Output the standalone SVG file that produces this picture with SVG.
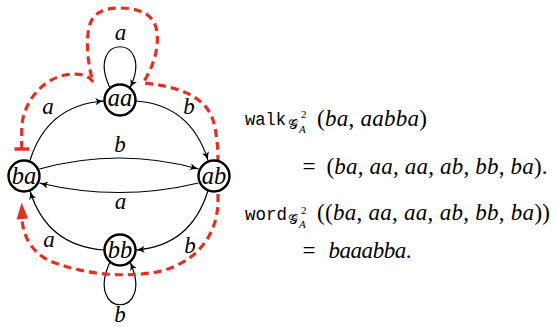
<svg xmlns="http://www.w3.org/2000/svg" width="557" height="327" viewBox="0 0 557 327">
<style>
.node circle{fill:#fff;stroke:#000;stroke-width:2.4}
.lbl{font-family:"Liberation Serif","Times New Roman",serif;font-style:italic;font-size:23px;text-anchor:middle;fill:#000}
.nl{font-size:24.5px}
.edge{fill:none;stroke:#000;stroke-width:1.2;marker-end:url(#ah)}
.walk{fill:none;stroke:#e03127;stroke-width:3.2;stroke-dasharray:8 5}
.m{font-family:"Liberation Serif","Times New Roman",serif;font-size:23px;fill:#000}
.i{font-style:italic}
.tt{font-family:"Liberation Mono","Courier New",monospace;font-size:18.5px;fill:#000}
.cal{font-family:"DejaVu Sans","Noto Sans",serif;font-size:14px;fill:#000}
.sub{font-family:"Liberation Serif","Times New Roman",serif;font-size:11px;fill:#000}
</style>
<defs>
<marker id="ah" markerWidth="10" markerHeight="8" refX="8.5" refY="4" orient="auto" markerUnits="userSpaceOnUse">
<path d="M0,0.3 Q3.5,3 8.5,4 Q3.5,5 0,7.7 L1.8,4 Z" fill="#000"/>
</marker>
</defs>
<g id="connectors">
<path class="edge" d="M110,88 C84,33 156,33 130,88"/>
<path class="edge" d="M110,262 C84,319 156,319 130,262"/>
<path class="edge" d="M30,160.5 C40,128 62,104 104,101"/>
<path class="edge" d="M136,101 C176,104 198,128 208,160.5"/>
<path class="edge" d="M39.5,169 Q119,147 198.5,169"/>
<path class="edge" d="M198.5,183 Q119,202 39.5,183"/>
<path class="edge" d="M208,190.5 C198,223 176,247 136,250"/>
<path class="edge" d="M104,250 C62,247 40,223 30,191"/>
<g class="lbl">
<text x="120.5" y="40">a</text>
<text x="48" y="114">a</text>
<text x="189" y="113.5">b</text>
<text x="120" y="151.5">b</text>
<text x="120.5" y="208.5">a</text>
<text x="49" y="246.5">a</text>
<text x="190" y="253">b</text>
<text x="120" y="321.5">b</text>
</g>
</g>
<g id="walk-path">
<path class="walk" d="M21.7,149 L21.7,130 C21.7,105 40,80 65,75 C78,73 88,74 93,82 C88,65 85,40 90,24 C95,10 108,8 120,8 C135,8 148,12 154,22 C160,34 159,58 143,83 C175,86 205,95 213,120 C216,130 218,145 218,160 L218,200 C218,240 190,268 150,273 C115,278 75,272 48,260 C32,252 23,236 22,219"/>
<line x1="14.5" y1="149" x2="29" y2="149" stroke="#e03127" stroke-width="3.5"/>
<polygon points="21.7,202.5 16.5,219.5 28,218.5" fill="#e03127"/>
</g>
<g id="node-aa" class="node"><circle cx="120" cy="100" r="15.5"/><text class="lbl nl" x="120" y="105.5">aa</text></g>
<g id="node-ba" class="node"><circle cx="24" cy="176" r="15.5"/><text class="lbl nl" x="24" y="183.5">ba</text></g>
<g id="node-ab" class="node"><circle cx="214" cy="176" r="15.5"/><text class="lbl nl" x="214" y="183.5">ab</text></g>
<g id="node-bb" class="node"><circle cx="120" cy="250" r="15.5"/><text class="lbl nl" x="120" y="257.5">bb</text></g>
<g id="walk-eq">
<text class="tt" x="245" y="125" textLength="41" lengthAdjust="spacingAndGlyphs">walk</text>
<text class="cal" x="288" y="128.5">𝒢</text>
<text class="sub" x="301" y="118">2</text>
<text class="sub i" x="299" y="132.5">A</text>
<text class="m" x="317" y="125.5" textLength="110" lengthAdjust="spacing">(<tspan class="i">ba</tspan>, <tspan class="i">aabba</tspan>)</text>
<text class="m" x="302.5" y="174">=</text>
<text class="m" x="326.5" y="174" textLength="221" lengthAdjust="spacing">(<tspan class="i">ba</tspan>, <tspan class="i">aa</tspan>, <tspan class="i">aa</tspan>, <tspan class="i">ab</tspan>, <tspan class="i">bb</tspan>, <tspan class="i">ba</tspan>).</text>
</g>
<g id="word-eq">
<text class="tt" x="245" y="220" textLength="42" lengthAdjust="spacingAndGlyphs">word</text>
<text class="cal" x="288" y="224">𝒢</text>
<text class="sub" x="301" y="213.5">2</text>
<text class="sub i" x="299" y="228">A</text>
<text class="m" x="317" y="220" textLength="233" lengthAdjust="spacing">((<tspan class="i">ba</tspan>, <tspan class="i">aa</tspan>, <tspan class="i">aa</tspan>, <tspan class="i">ab</tspan>, <tspan class="i">bb</tspan>, <tspan class="i">ba</tspan>))</text>
<text class="m" x="302.5" y="258">=</text>
<text class="m" x="328.5" y="258" textLength="83" lengthAdjust="spacing"><tspan class="i">baaabba</tspan>.</text>
</g>
</svg>
